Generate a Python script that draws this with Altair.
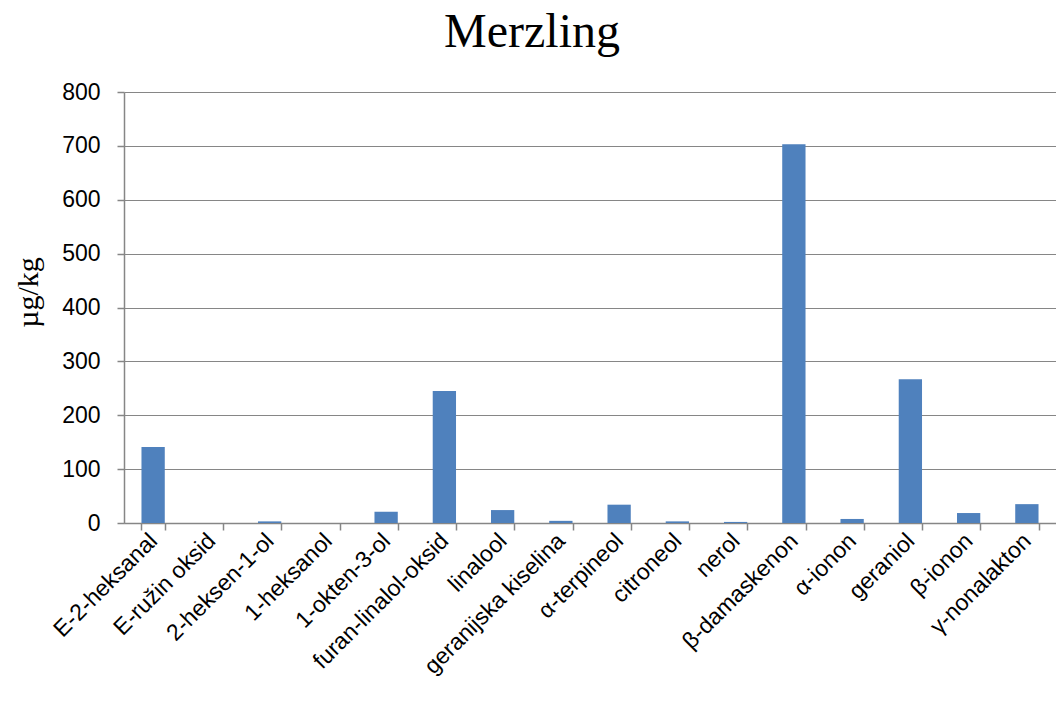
import altair as alt
import pandas as pd

compounds = ["E-2-heksanal", "E-ružin oksid", "2-heksen-1-ol", "1-heksanol", "1-okten-3-ol",
             "furan-linalol-oksid", "linalool", "geranijska kiselina", "α-terpineol", "citroneol",
             "nerol", "β-damaskenon", "α-ionon", "geraniol", "β-ionon", "γ-nonalakton"]
values = [141, 0, 3, 0, 21, 245, 24, 4, 34, 3, 2, 703, 7.5, 267, 18.5, 35]

df = pd.DataFrame({"compound": compounds, "value": values})

grey = "#868686"

chart = alt.Chart(df).mark_bar(color="#4F81BD").encode(
    x=alt.X("compound:N", sort=compounds, title=None,
            scale=alt.Scale(paddingInner=0.6, paddingOuter=0.3),
            axis=alt.Axis(labelAngle=-45, labelAlign="right", labelBaseline="middle",
                          labelFont="Liberation Sans", labelFontSize=23, labelColor="black",
                          labelPadding=7, tickBand="extent", ticks=True, tickSize=7,
                          tickColor=grey, domainColor=grey, tickWidth=1.5, domainWidth=1.5,
                          grid=False, labelOverlap=False, labelLimit=400)),
    y=alt.Y("value:Q", title="µg/kg",
            scale=alt.Scale(domain=[0, 800], nice=False),
            axis=alt.Axis(values=list(range(0, 801, 100)), labelFont="Liberation Sans",
                          labelFontSize=23, labelColor="black", labelPadding=17,
                          tickSize=7, tickColor=grey, domainColor=grey, gridColor=grey,
                          tickWidth=1.5, domainWidth=1.5, gridWidth=1.2,
                          titleFont="Liberation Serif", titleFontSize=30, titleFontWeight="normal",
                          titleColor="black", titlePadding=18, titleY=200)),
).properties(
    width=932, height=431,
    title=alt.TitleParams("Merzling", font="Liberation Serif", fontSize=48, fontWeight="normal",
                          color="black", anchor="middle", dx=-58, offset=24),
    autosize=alt.AutoSizeParams(type="none"),
    padding={"left": 116, "top": 84, "right": 0, "bottom": 180},
).configure_view(stroke=None)

chart.save("out.html", embed_options={"renderer": "svg", "actions": False})
